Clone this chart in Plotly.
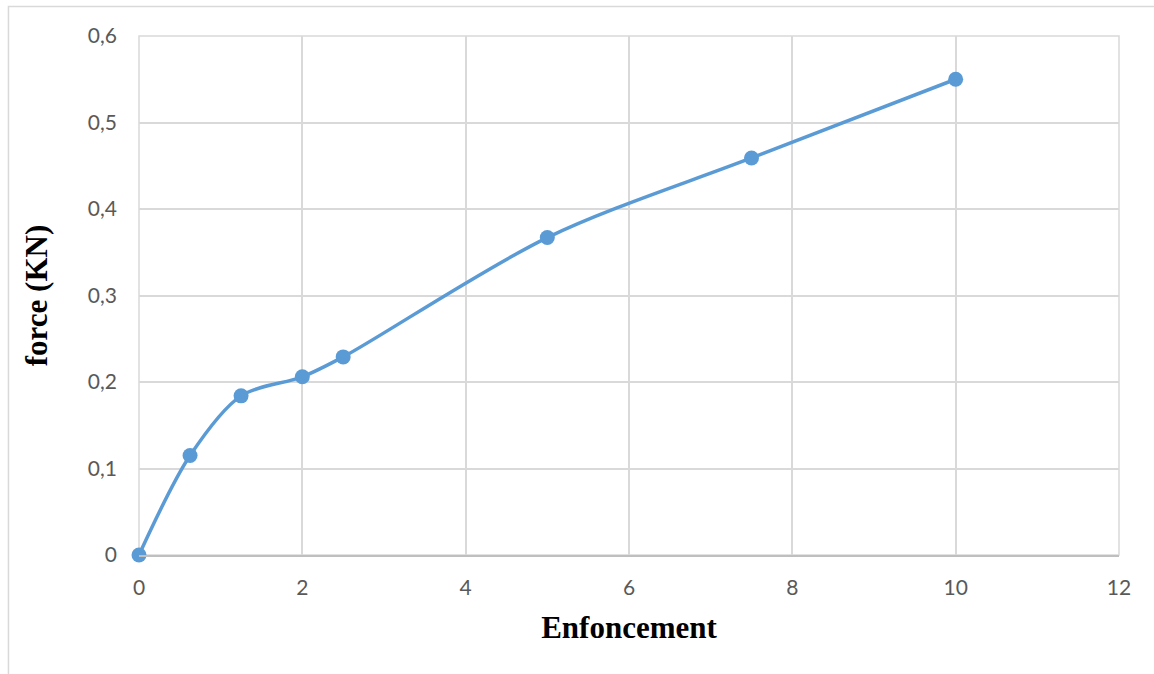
import plotly.graph_objects as go

# Penetration test: force versus penetration depth
enfoncement = [0, 0.625, 1.25, 2, 2.5, 5, 7.5, 10]
force_kn = [0, 0.115, 0.184, 0.206, 0.229, 0.367, 0.459, 0.55]

x_ticks = [0, 2, 4, 6, 8, 10, 12]
x_tick_labels = ["0", "2", "4", "6", "8", "10", "12"]
y_ticks = [0, 0.1, 0.2, 0.3, 0.4, 0.5, 0.6]
y_tick_labels = ["0", "0,1", "0,2", "0,3", "0,4", "0,5", "0,6"]

LINE_BLUE = "#5b9bd5"
GRID = "#d9d9d9"
TICK_FONT = dict(family="Lato, Open Sans, sans-serif", size=21, color="#595959")
TITLE_FONT = dict(family="Liberation Serif, Times New Roman, serif", size=31, color="#000000")

fig = go.Figure()
fig.add_trace(go.Scatter(
    x=enfoncement, y=force_kn,
    mode="lines+markers",
    line=dict(color=LINE_BLUE, width=3.5, shape="spline", smoothing=0.9),
    marker=dict(color=LINE_BLUE, size=15),
    showlegend=False,
    cliponaxis=False,
))

fig.update_layout(
    width=1154, height=674,
    margin=dict(l=139, r=35, t=36, b=119),
    paper_bgcolor="white", plot_bgcolor="white",
    xaxis=dict(
        range=[0, 12], tickvals=x_ticks, ticktext=x_tick_labels,
        showgrid=True, gridcolor=GRID, gridwidth=1.5,
        zeroline=False, showline=True, linecolor="#bfbfbf", linewidth=1.5,
        mirror=False, ticks="", ticklabelstandoff=13,
        tickfont=TICK_FONT,
        title=dict(text="<b>Enfoncement</b>", font=TITLE_FONT, standoff=18),
    ),
    yaxis=dict(
        range=[0, 0.6], tickvals=y_ticks, ticktext=y_tick_labels,
        showgrid=True, gridcolor=GRID, gridwidth=1.5,
        zeroline=False, showline=False, ticks="", ticklabelstandoff=21,
        tickfont=TICK_FONT,
        title=dict(text="<b>force (KN)</b>", font=TITLE_FONT, standoff=31),
    ),
    shapes=[
        # plot-area frame
        dict(type="rect", xref="paper", yref="paper", x0=0, x1=1, y0=0, y1=1,
             line=dict(color=GRID, width=1.5), layer="below"),
        # outer chart border
        dict(type="rect", xref="paper", yref="paper",
             x0=-0.1332, x1=1.2, y0=-0.4, y1=1.0568,
             line=dict(color=GRID, width=1.5), layer="below"),
    ],
)

fig.write_html("out.html")
